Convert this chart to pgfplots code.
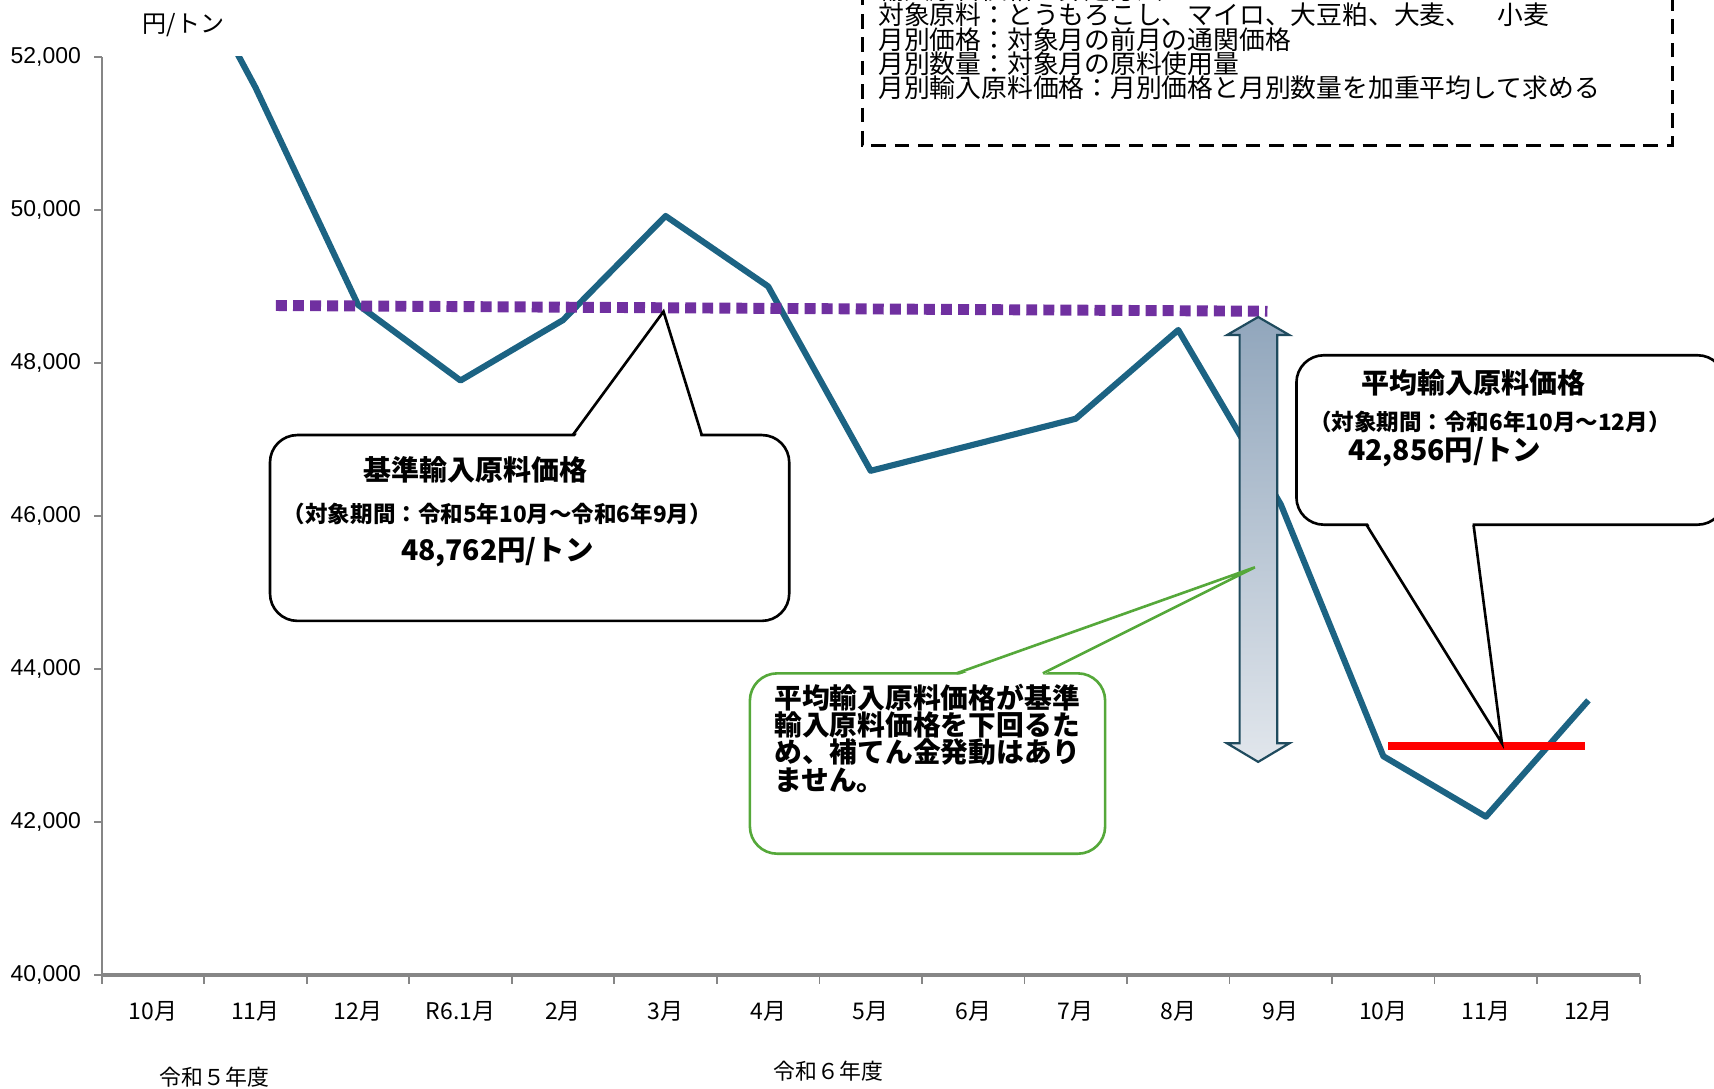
\documentclass[border=0pt]{standalone}
\usepackage{pgfplots}
\pgfplotsset{compat=1.18}
\usepackage{pgfplotstable}
\usepackage{fontspec}
\setmainfont{Liberation Sans}
\newfontfamily\cjk{Noto Sans CJK JP}
\definecolor{lineblue}{HTML}{1C6383}
\definecolor{dotpurple}{HTML}{7030A0}
\definecolor{axgray}{HTML}{868686}
\definecolor{arrowtop}{HTML}{91A6BC}
\definecolor{arrowbot}{HTML}{E1E6EC}
\definecolor{arrowedge}{HTML}{1F4B5E}
\definecolor{callgreen}{HTML}{55A83A}
\newcommand{\fs}[2]{\fontsize{#1}{#2}\selectfont}

% monthly import feed price, yen per ton (R5.10 - R6.12)
\pgfplotstableread{
x y
0 54100
1 51600
2 48760
3 47770
4 48560
5 49920
6 49000
7 46590
8 46930
9 47270
10 48430
11 46150
12 42860
13 42070
14 43590
}\pricedata

\begin{document}
\begin{tikzpicture}
\path[use as bounding box] (-46.5pt,-52pt) rectangle (737.5pt,446pt);
\clip (-46.5pt,-52pt) rectangle (737.5pt,446pt);
\begin{axis}[
    scale only axis,
    width=703.5pt, height=420pt,
    xmin=-0.5, xmax=14.5,
    ymin=40000, ymax=52000,
    axis lines=left,
    axis line style={-},
    x axis line style={axgray, line width=1.5pt},
    y axis line style={axgray, line width=0.8pt},
    tick align=outside,
    ytick={40000,42000,...,52000},
    scaled y ticks=false,
    ytick style={axgray, line width=0.8pt},
    major tick length=3.5pt,
    xtick={0,...,14},
    xticklabels={10月,11月,12月,R6.1月,2月,3月,4月,5月,6月,7月,8月,9月,10月,11月,12月},
    major x tick style={draw=none},
    minor xtick={-0.5,0.5,...,14.5},
    minor x tick style={axgray, line width=0.8pt},
    minor tick length=4pt,
    xticklabel style={font=\cjk\fs{10.5}{12}, yshift=-5pt},
    yticklabel style={font=\fs{10.5}{12}, xshift=-2.5pt},
    /pgf/number format/assume math mode=true,
    clip=true,
]
\addplot[lineblue, line width=2.8pt, line join=round] table[x=x, y=y] {\pricedata};
\addplot[dotpurple, line width=5pt, dash pattern=on 5pt off 2.8pt] coordinates {(1.2,48750) (10.87,48675)};
\addplot[red, line width=3.5pt] coordinates {(12.05,42990) (13.97,42990)};
\end{axis}

\begin{scope}[x=0.5pt, y=-0.5pt, shift={(-93,-892)}]
% unit and fiscal year labels
\node[font=\cjk\fs{11}{12}] at (168,23) {円/トン};
\node[font=\cjk\fs{10}{12}] at (196,985) {令和５年度};
\node[font=\cjk\fs{10}{12}] at (758,980) {令和６年度};

% dashed note box at top
\draw[line width=1.6pt, dash pattern=on 6.7pt off 4pt] (789,-30) rectangle (1530,133);
\node[font=\cjk\fs{11.8}{12}, anchor=west, inner sep=0] at (803,-9) {輸入原料価格の算定方法};
\node[font=\cjk\fs{11.8}{12}, anchor=west, inner sep=0] at (803,13) {対象原料：とうもろこし、マイロ、大豆粕、大麦、　小麦};
\node[font=\cjk\fs{11.8}{12}, anchor=west, inner sep=0] at (803,36) {月別価格：対象月の前月の通関価格};
\node[font=\cjk\fs{11.8}{12}, anchor=west, inner sep=0] at (803,58) {月別数量：対象月の原料使用量};
\node[font=\cjk\fs{11.8}{12}, anchor=west, inner sep=0] at (803,80) {月別輸入原料価格：月別価格と月別数量を加重平均して求める};

% double arrow
\shade[top color=arrowtop, bottom color=arrowbot]
  (1151,290) -- (1179.5,306.5) -- (1168.5,306.5) -- (1168.5,680) -- (1179.5,680) -- (1151,697)
  -- (1122.5,680) -- (1134,680) -- (1134,306.5) -- (1122.5,306.5) -- cycle;
\draw[arrowedge, line width=1pt, line join=miter]
  (1151,290) -- (1179.5,306.5) -- (1168.5,306.5) -- (1168.5,680) -- (1179.5,680) -- (1151,697)
  -- (1122.5,680) -- (1134,680) -- (1134,306.5) -- (1122.5,306.5) -- cycle;

% callout: base price
\draw[line width=1.2pt, fill=white, rounded corners=12.5pt] (247,398) rectangle (722,568);
\fill[white] (525.5,400) -- (607,285) -- (641,400) -- cycle;
\draw[line width=1.2pt] (524,398) -- (607,285) -- (642,398);
\node[font=\cjk\bfseries\fs{12.8}{14}] at (435,430) {基準輸入原料価格};
\node[font=\cjk\bfseries\fs{10.3}{12}] at (455,470) {（対象期間：令和5年10月～令和6年9月）};
\node[font=\cjk\bfseries\fs{13}{14}] at (455,505) {48,762円/トン};

% callout: average price
\draw[line width=1.2pt, fill=white, rounded corners=12.5pt] (1186,325) rectangle (1578,480);
\fill[white] (1251,478) -- (1374,680) -- (1347,478) -- cycle;
\draw[line width=1.2pt] (1250,480) -- (1374,680) -- (1348,480);
\node[font=\cjk\bfseries\fs{12.8}{14}] at (1348,350) {平均輸入原料価格};
\node[font=\cjk\bfseries\fs{10.3}{12}] at (1363,386) {（対象期間：令和6年10月～12月）};
\node[font=\cjk\bfseries\fs{13}{14}, anchor=west, inner sep=0] at (1233,414) {42,856円/トン};

% callout: conclusion
\draw[callgreen, line width=1.2pt, fill=white, rounded corners=12.5pt] (686,616) rectangle (1011,781);
\fill[white] (876,618) -- (1148,519) -- (953,618) -- cycle;
\draw[callgreen, line width=1.2pt] (875,616) -- (1148,519) -- (954,616);
\node[font=\cjk\bfseries\fs{12.7}{13}, anchor=base west, inner sep=0] at (708,648) {平均輸入原料価格が基準};
\node[font=\cjk\bfseries\fs{12.7}{13}, anchor=base west, inner sep=0] at (708,673) {輸入原料価格を下回るた};
\node[font=\cjk\bfseries\fs{12.7}{13}, anchor=base west, inner sep=0] at (708,698) {め、補てん金発動はあり};
\node[font=\cjk\bfseries\fs{12.7}{13}, anchor=base west, inner sep=0] at (708,723) {ません。};
\end{scope}
\end{tikzpicture}
\end{document}
